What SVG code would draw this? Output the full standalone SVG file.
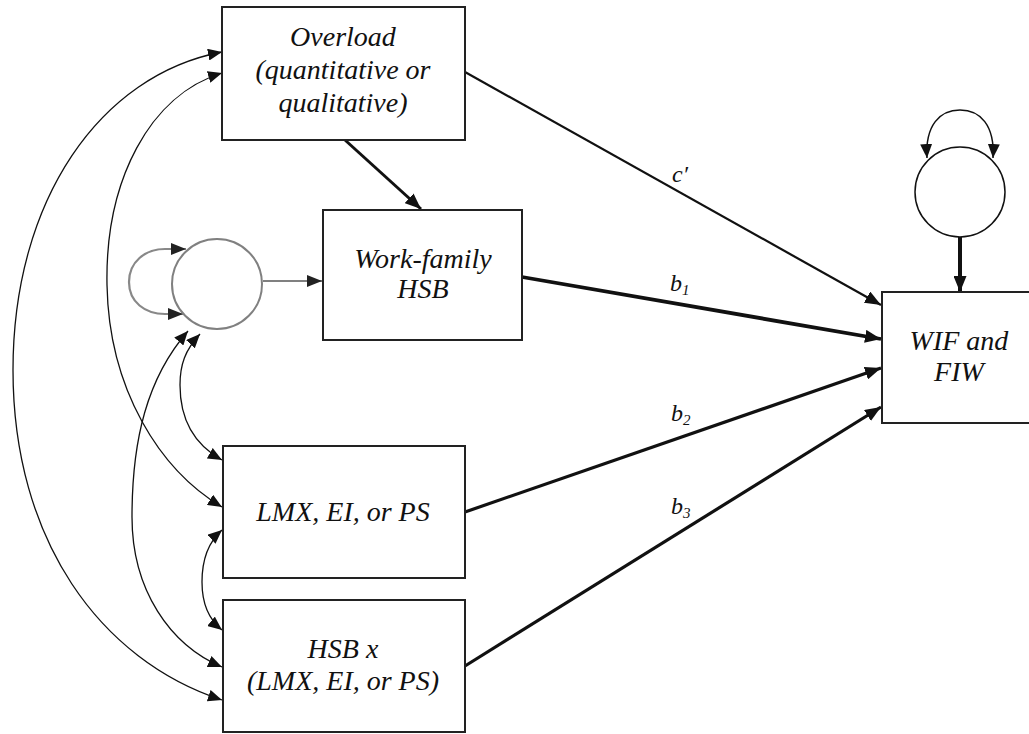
<svg xmlns="http://www.w3.org/2000/svg" width="1029" height="734" viewBox="0 0 1029 734">
<style>
.box{fill:#fff;stroke:#222;stroke-width:2}
.t{font-family:"Liberation Serif","Times New Roman",serif;font-style:italic;font-size:28px;fill:#111;text-anchor:middle}
.lab{font-family:"Liberation Serif","Times New Roman",serif;font-style:italic;font-size:24px;fill:#111}
.sub{font-size:15px}
.curve{fill:none;stroke:#111;stroke-width:1.3;marker-start:url(#ah);marker-end:url(#ah)}
.path{fill:none;stroke:#111;marker-end:url(#ahb)}
</style>
<defs>
<marker id="ah" markerWidth="14" markerHeight="12" refX="14" refY="6" orient="auto-start-reverse" markerUnits="userSpaceOnUse"><path d="M0,0 L14,6 L0,12 z" fill="#111"/></marker>
<marker id="ahb" markerWidth="16" markerHeight="13" refX="16" refY="6.5" orient="auto" markerUnits="userSpaceOnUse"><path d="M0,0 L16,6.5 L0,13 z" fill="#111"/></marker>
<marker id="ahg" markerWidth="15" markerHeight="12" refX="15" refY="6" orient="auto-start-reverse" markerUnits="userSpaceOnUse"><path d="M0,0 L15,6 L0,12 z" fill="#222"/></marker>
</defs>
<rect width="1029" height="734" fill="#fff"/>

<g id="connectors">
<path class="curve" d="M222,52 C100,75 13,200 13,370 C13,540 100,660 222,700"/>
<path class="curve" d="M222,73 C150,95 105,180 107,285 C109,390 160,470 222,507"/>
<path class="curve" d="M188,331 C147,378 132,440 132,517 C132,590 170,645 222,667"/>
<path class="curve" d="M200,334 C185,350 180,365 180,385 C180,420 195,445 222,460"/>
<path class="curve" d="M222,530 C205,545 202,565 202,582 C202,600 207,618 222,630"/>
<path class="path" stroke-width="3" d="M345,140 L421,209"/>
<path class="path" stroke-width="2.2" d="M465,72 L881,305"/>
<path class="path" stroke-width="3.8" d="M522,277 L881,339"/>
<path class="path" stroke-width="3.2" d="M465,512 L881,368"/>
<path class="path" stroke-width="3.2" d="M465,666 L881,407"/>
<path fill="none" stroke="#808080" stroke-width="2" marker-end="url(#ahg)" d="M263,281 L322,281"/>
<path fill="none" stroke="#888" stroke-width="2.2" marker-start="url(#ahg)" marker-end="url(#ahg)" d="M186,249 L165,249 C145,249 129,262 129,282 C129,302 145,314 165,314 L183,314"/>
<path fill="none" stroke="#111" stroke-width="1.5" marker-start="url(#ah)" marker-end="url(#ah)" d="M927,158 C925,125 940,110 960,110 C980,110 995,125 993,158"/>
<path class="path" stroke-width="4" d="M960,237 L960,292"/>
<text class="lab" x="672" y="182">c′</text>
<text class="lab" x="670" y="291">b<tspan class="sub" dy="4">1</tspan></text>
<text class="lab" x="671" y="421">b<tspan class="sub" dy="4">2</tspan></text>
<text class="lab" x="671" y="514">b<tspan class="sub" dy="4">3</tspan></text>
</g>

<g id="overload">
<rect class="box" x="222" y="7" width="243" height="133"/>
<text class="t" x="343" y="46">Overload</text>
<text class="t" x="343" y="79">(quantitative or</text>
<text class="t" x="343" y="112">qualitative)</text>
</g>

<g id="workfamily">
<rect class="box" x="323" y="210" width="199" height="130"/>
<text class="t" x="423" y="268">Work-family</text>
<text class="t" x="423" y="298">HSB</text>
</g>

<g id="lmx">
<rect class="box" x="223" y="446" width="242" height="132"/>
<text class="t" x="343" y="521">LMX, EI, or PS</text>
</g>

<g id="hsbx">
<rect class="box" x="223" y="600" width="242" height="132"/>
<text class="t" x="343" y="658">HSB x</text>
<text class="t" x="343" y="690">(LMX, EI, or PS)</text>
</g>

<g id="wif">
<rect class="box" x="882" y="292" width="160" height="131"/>
<text class="t" x="959" y="350">WIF and</text>
<text class="t" x="959" y="381">FIW</text>
</g>

<g id="error-left">
<circle cx="217" cy="284" r="45" fill="#fff" stroke="#808080" stroke-width="2"/>
</g>

<g id="error-right">
<circle cx="960" cy="192" r="45" fill="#fff" stroke="#111" stroke-width="1.5"/>
</g>
</svg>
